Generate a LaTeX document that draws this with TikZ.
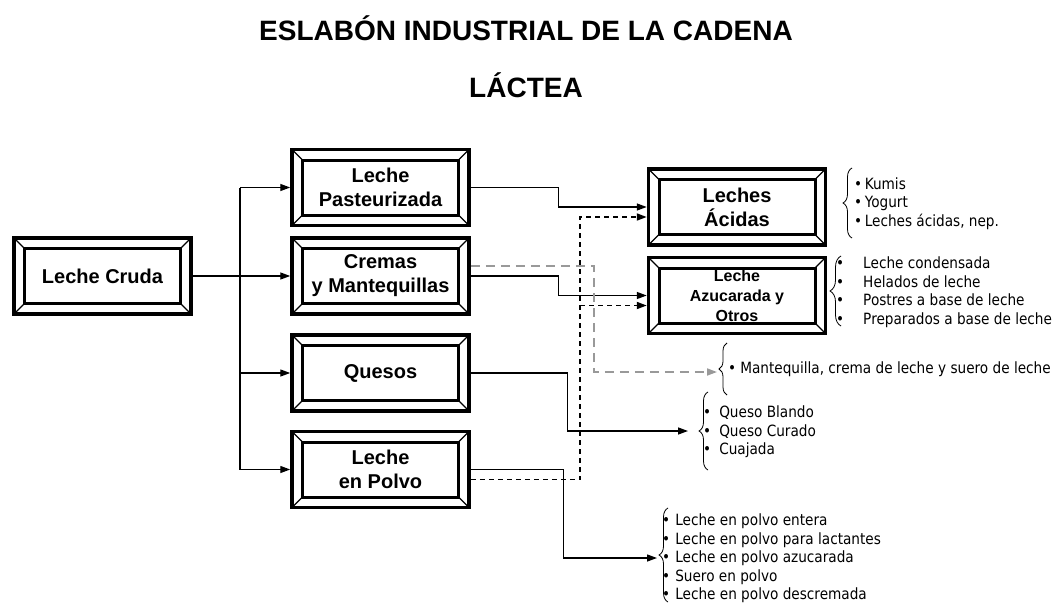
\documentclass[tikz,border=0pt]{standalone}
\usepackage{fontspec}
\setmainfont{Liberation Sans}
\newfontfamily\listfont[FakeStretch=0.88]{DejaVu Sans}
\usetikzlibrary{arrows.meta, decorations.pathreplacing, calc, positioning}
\newcommand{\itm}[1][4pt]{\textbullet\hspace{#1}}

\begin{document}
\begin{tikzpicture}[
    x=1pt, y=-1pt,
    node distance=9pt,
    box/.style={rectangle, draw, line width=3.5pt, minimum width=177pt, minimum height=76pt, inner sep=0pt, align=center, font=\bfseries\fontsize{20}{24}\selectfont,
      path picture={
        \draw[line width=3pt] ([shift={(10.5pt,10.5pt)}]path picture bounding box.south west) rectangle ([shift={(-10.5pt,-10.5pt)}]path picture bounding box.north east);
        \draw[line width=1.2pt] (path picture bounding box.south west) -- ++(10.5pt,10.5pt)
          (path picture bounding box.south east) -- ++(-10.5pt,10.5pt)
          (path picture bounding box.north west) -- ++(10.5pt,-10.5pt)
          (path picture bounding box.north east) -- ++(-10.5pt,-10.5pt);
      }},
    title/.style={font=\bfseries\fontsize{28}{34}\selectfont, anchor=base, inner sep=0pt},
    link/.style={line width=1.3pt},
    arrow/.style={line width=1.3pt, -{Triangle[length=10pt,width=7pt]}},
    dasharrow/.style={line width=1.8pt, dash pattern=on 5pt off 4pt, -{Triangle[length=10pt,width=7pt]}},
    greyarrow/.style={line width=1.8pt, black!40, dash pattern=on 9pt off 6pt, -{Triangle[length=10pt,width=7pt]}},
    brace/.style={line width=0.8pt, decorate, decoration={brace, amplitude=9pt}},
    list/.style={anchor=west, inner sep=0pt, align=left, font=\listfont\fontsize{15.5}{18.5}\selectfont}
  ]
    \useasboundingbox (0,0) rectangle (1056,602);
    % Title
    \node[title] (tit1) at (526,41) {ESLABÓN INDUSTRIAL DE LA CADENA};
    \node[title] (tit2) at (526,97) {LÁCTEA};
    % Nodes
    \node[box] (cruda) at (102.5,276) {Leche Cruda};
    \node[box] (past) at (380.5,187.5) {Leche\\Pasteurizada};
    \node[box, below=of past] (crem) {Cremas\\y Mantequillas};
    \node[box, below=17.5pt of crem] (ques) {Quesos};
    \node[box, below=17pt of ques] (polv) {Leche\\en Polvo};
    \node[box] (acid) at (737,207) {Leches\\Ácidas};
    \node[box, below=of acid, font=\bfseries\fontsize{16}{20}\selectfont] (azuc) {Leche\\Azucarada y\\Otros};
    % Product lists
    \node[list] (lk) at (854,203.5) {\itm[2.5pt]Kumis\\\itm[2.5pt]Yogurt\\\itm[2.5pt]Leches ácidas, nep.};
    \node[list] (lc) at (836,292) {\itm[19pt]Leche condensada\\\itm[19pt]Helados de leche\\\itm[19pt]Postres a base de leche\\\itm[19pt]Preparados a base de leche};
    \node[list] (lm) at (728,369) {\itm[4pt]Mantequilla, crema de leche y suero de leche};
    \node[list] (lq) at (703,432) {\itm[8pt]Queso Blando\\\itm[8pt]Queso Curado\\\itm[8pt]Cuajada};
    \node[list] (lp) at (662,558.5) {\itm[5pt]Leche en polvo entera\\\itm[5pt]Leche en polvo para lactantes\\\itm[5pt]Leche en polvo azucarada\\\itm[5pt]Suero en polvo\\\itm[5pt]Leche en polvo descremada};
    % Braces
    \draw[brace] (852,238) -- (852,168);
    \draw[brace, decoration={amplitude=11pt}] (841,326) -- (841,256);
    \draw[brace, decoration={amplitude=8pt}] (727,395) -- (727,343);
    \draw[brace] (708,470) -- (708,392);
    \draw[brace] (668,602) -- (668,508);
    % Arrows (main flow)
    \coordinate (trunk) at (240,0);
    \draw[link] (cruda.east) -- (cruda.east -| trunk);
    \draw[link] (trunk |- past) -- (trunk |- polv);
    \foreach \n in {past,crem,ques,polv}
      \draw[arrow] (trunk |- \n) -- (\n.west);
    \draw[arrow] (past.east) -- ++(88,0) |- (acid.west);
    \draw[arrow] (crem.east) -- ++(88,0) |- (azuc.west);
    \coordinate (tq) at (688,431);
    \draw[arrow] (ques.east) -- ++(97,0) |- (tq);
    \coordinate (tp) at (657,558);
    \draw[arrow] (polv.east) -- ++(93,0) |- (tp);
    % Dashed branches
    \coordinate (vd) at (580,0);
    \coordinate (da) at ($(acid.west)+(0,10)$);
    \coordinate (dz) at ($(azuc.west)+(0,10)$);
    \coordinate (dp) at ($(polv.east)+(0,10)$);
    \draw[dasharrow] (dp) -| (vd |- da) -- (da);
    \draw[dasharrow] (vd |- dz) -- (dz);
    \coordinate (gc) at ($(crem.east)+(0,-10)$);
    \coordinate (tm) at (717,372);
    \draw[greyarrow] (gc) -- ++(123,0) |- (tm);
\end{tikzpicture}
\end{document}
